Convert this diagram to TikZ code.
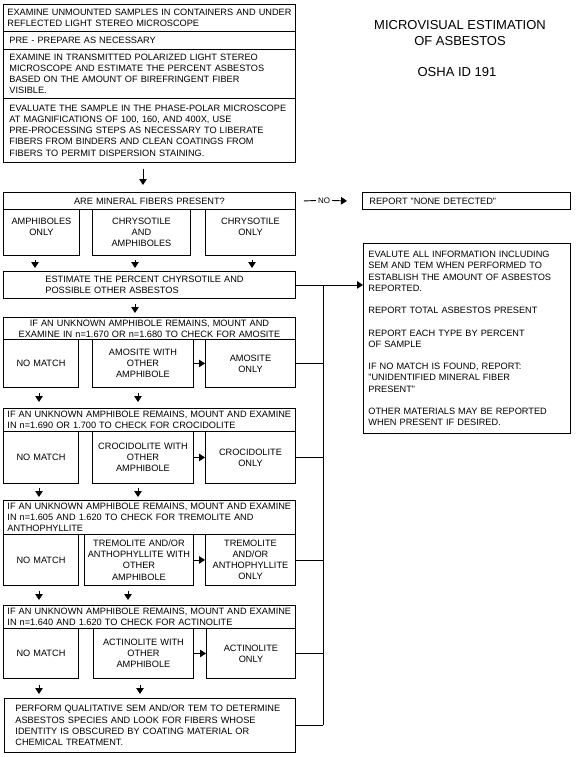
\documentclass[tikz,border=0pt]{standalone}
\usepackage{fontspec}
\setmainfont{Liberation Sans}
\usetikzlibrary{arrows.meta,calc}
\newcommand\tf{\fontsize{9.2}{11.2}\selectfont\hyphenpenalty=10000\exhyphenpenalty=10000}
\begin{document}
\begin{tikzpicture}[x=1pt,y=-1pt,
  box/.style={draw, line width=0.9pt, anchor=north west, inner ysep=0pt, font=\tf},
  lbox/.style={box, align=left},
  cbox/.style={box, align=center, inner xsep=3pt},
  arr/.style={line width=0.9pt, -{Triangle[width=7.5pt,length=6pt]}},
  ln/.style={line width=0.9pt},
  ttl/.style={font=\fontsize{13}{16}\selectfont, align=center}]
\useasboundingbox (0,0) rectangle (576,757);
% title
\node[ttl] (title) at (460,33) {MICROVISUAL ESTIMATION\\OF ASBESTOS};
\node[ttl] (osha) at (457,72) {OSHA ID 191};
% top group
\node[lbox, minimum width=292, minimum height=27, inner xsep=4pt, text width=284pt] (r1) at (3,4)
  {\mbox{EXAMINE UNMOUNTED SAMPLES IN CONTAINERS AND UNDER}\\REFLECTED LIGHT STEREO MICROSCOPE};
\node[lbox, minimum width=292, minimum height=18, inner xsep=6pt, text width=280pt] (r2) at (3,31)
  {PRE - PREPARE AS NECESSARY};
\node[lbox, minimum width=292, minimum height=49, inner xsep=6pt, text width=280pt] (r3) at (3,49)
  {EXAMINE IN TRANSMITTED POLARIZED LIGHT STEREO\\MICROSCOPE AND ESTIMATE THE PERCENT ASBESTOS\\BASED ON THE AMOUNT OF BIREFRINGENT FIBER\\VISIBLE.};
\node[lbox, minimum width=292, minimum height=64, inner xsep=6pt, text width=280pt] (r4) at (3,98)
  {EVALUATE THE SAMPLE IN THE PHASE-POLAR MICROSCOPE\\AT MAGNIFICATIONS OF 100, 160, AND 400X, USE\\PRE-PROCESSING STEPS AS NECESSARY TO LIBERATE\\FIBERS FROM BINDERS AND CLEAN COATINGS FROM\\FIBERS TO PERMIT DISPERSION STAINING.};
% mineral question
\node[cbox, minimum width=292, minimum height=17, text width=286pt] (mineral) at (3,192)
  {ARE MINERAL FIBERS PRESENT?};
\node[cbox, minimum width=76, minimum height=46, text width=70pt] (c1) at (3,209)
  {AMPHIBOLES\\ONLY\\\mbox{}};
\node[cbox, minimum width=98, minimum height=46, text width=92pt] (c2) at (92,209)
  {CHRYSOTILE\\AND\\AMPHIBOLES};
\node[cbox, minimum width=90, minimum height=46, text width=84pt] (c3) at (205,209)
  {CHRYSOTILE\\ONLY\\\mbox{}};
\node[lbox, minimum width=208, minimum height=17, inner xsep=7pt, text width=194pt] (report) at (362,192)
  {REPORT "NONE DETECTED"};
\node[font=\fontsize{8}{9}\selectfont, inner sep=2pt] (no) at (324,200.5) {NO};
% estimate
\node[lbox, minimum width=292, minimum height=27, inner xsep=42pt, text width=208pt] (estimate) at (3,271)
  {ESTIMATE THE PERCENT CHYRSOTILE AND\\POSSIBLE OTHER ASBESTOS};
% evaluate
\node[lbox, minimum width=207, minimum height=190, inner xsep=5pt, text width=197pt] (evaluate) at (363,243)
  {EVALUTE ALL INFORMATION INCLUDING\\SEM AND TEM WHEN PERFORMED TO\\ESTABLISH THE AMOUNT OF ASBESTOS\\REPORTED.\\[11.2pt]REPORT TOTAL ASBESTOS PRESENT\\[11.2pt]REPORT EACH TYPE BY PERCENT\\OF SAMPLE\\[11.2pt]IF NO MATCH IS FOUND, REPORT:\\"UNIDENTIFIED MINERAL FIBER\\PRESENT"\\[11.2pt]OTHER MATERIALS MAY BE REPORTED\\WHEN PRESENT IF DESIRED.};
% amosite
\node[cbox, minimum width=292, minimum height=22, text width=286pt] (amh) at (3,317)
  {IF AN UNKNOWN AMPHIBOLE REMAINS, MOUNT AND\\EXAMINE IN n=1.670 OR n=1.680 TO CHECK FOR AMOSITE};
\node[cbox, minimum width=75, minimum height=48, text width=69pt] (amnm) at (3,339) {NO MATCH};
\node[cbox, minimum width=101, minimum height=48, text width=95pt] (amwith) at (92,339) {AMOSITE WITH\\OTHER\\AMPHIBOLE};
\node[cbox, minimum width=90, minimum height=48, text width=84pt] (amonly) at (205,339) {AMOSITE\\ONLY};
% crocidolite
\node[lbox, minimum width=292, minimum height=23, inner xsep=4pt, text width=284pt] (crh) at (3,408)
  {\mbox{IF AN UNKNOWN AMPHIBOLE REMAINS, MOUNT AND EXAMINE}\\IN n=1.690 OR 1.700 TO CHECK FOR CROCIDOLITE};
\node[cbox, minimum width=75, minimum height=52, text width=69pt] (crnm) at (3,431) {NO MATCH};
\node[cbox, minimum width=101, minimum height=52, text width=95pt] (crwith) at (92,431) {CROCIDOLITE WITH\\OTHER\\AMPHIBOLE};
\node[cbox, minimum width=90, minimum height=52, text width=84pt] (cronly) at (205,431) {CROCIDOLITE\\ONLY};
% tremolite
\node[lbox, minimum width=292, minimum height=34, inner xsep=4pt, text width=284pt] (trh) at (3,500)
  {\mbox{IF AN UNKNOWN AMPHIBOLE REMAINS, MOUNT AND EXAMINE}\\IN n=1.605 AND 1.620 TO CHECK FOR TREMOLITE AND\\ANTHOPHYLLITE};
\node[cbox, minimum width=75, minimum height=51, text width=69pt] (trnm) at (3,534) {NO MATCH};
\node[cbox, minimum width=109, minimum height=51, inner xsep=2pt, text width=105pt] (trwith) at (84,534) {TREMOLITE AND/OR\\ANTHOPHYLLITE WITH\\OTHER\\AMPHIBOLE};
\node[cbox, minimum width=90, minimum height=51, text width=84pt] (tronly) at (205,534) {TREMOLITE\\AND/OR\\ANTHOPHYLLITE\\ONLY};
% actinolite
\node[lbox, minimum width=292, minimum height=23, inner xsep=4pt, text width=284pt] (ach) at (3,605)
  {\mbox{IF AN UNKNOWN AMPHIBOLE REMAINS, MOUNT AND EXAMINE}\\IN n=1.640 AND 1.620 TO CHECK FOR ACTINOLITE};
\node[cbox, minimum width=75, minimum height=50, text width=69pt] (acnm) at (3,628) {NO MATCH};
\node[cbox, minimum width=100, minimum height=50, text width=94pt] (acwith) at (93,628) {ACTINOLITE WITH\\OTHER\\AMPHIBOLE};
\node[cbox, minimum width=89, minimum height=50, text width=83pt] (aconly) at (206,628) {ACTINOLITE\\ONLY};
% perform
\node[lbox, minimum width=291, minimum height=54, inner xsep=11pt, text width=269pt] (perform) at (4,698)
  {PERFORM QUALITATIVE SEM AND/OR TEM TO DETERMINE\\ASBESTOS SPECIES AND LOOK FOR FIBERS WHOSE\\IDENTITY IS OBSCURED BY COATING MATERIAL OR\\CHEMICAL TREATMENT.};
% bus x
\coordinate (bx) at (323,0);
% connectors
\draw[arr] ($(r4.south west)+(140,6)$) -- ($(mineral.north west)+(140,-7)$);
\draw[ln] ($(mineral.east)+(8,0)$) -- (no.west);
\draw[arr] (no.east) -- ($(report.west)+(-15,0)$);
\draw[arr] ($(c1.south west)+(32,4)$) -- ($(estimate.north west)+(32,-3)$);
\draw[arr] ($(c2.south west)+(43,4)$) -- ($(estimate.north west)+(132,-3)$);
\draw[arr] ($(c3.south west)+(47,4)$) -- ($(estimate.north west)+(249,-3)$);
\draw[arr] ($(estimate.south west)+(132,5)$) -- ($(amh.north west)+(132,-4)$);
\draw[arr] (estimate.east) -- (estimate.east -| evaluate.west);
\draw[arr] (amwith.east) -- (amonly.west);
\draw[arr] (crwith.east) -- (cronly.west);
\draw[arr] (trwith.east) -- (tronly.west);
\draw[arr] (acwith.east) -- (aconly.west);
\draw[arr] ($(amnm.south west)+(36,5)$) -- ($(crh.north west)+(36,-6)$);
\draw[arr] ($(amwith.south west)+(46,5)$) -- ($(crh.north west)+(135,-6)$);
\draw[arr] ($(crnm.south west)+(36,4)$) -- ($(trh.north west)+(36,-3)$);
\draw[arr] ($(crwith.south west)+(46,4)$) -- ($(trh.north west)+(135,-3)$);
\draw[arr] ($(trnm.south west)+(36,5)$) -- ($(ach.north west)+(36,-5)$);
\draw[arr] ($(trwith.south west)+(44,5)$) -- ($(ach.north west)+(125,-5)$);
\draw[arr] ($(acnm.south west)+(36,6)$) -- ($(perform.north west)+(35,-4)$);
\draw[arr] ($(acwith.south west)+(47,6)$) -- ($(perform.north west)+(136,-4)$);
% bus
\draw[ln] (amonly.east) -- (amonly.east -| bx);
\draw[ln] (cronly.east) -- (cronly.east -| bx);
\draw[ln] (tronly.east) -- (tronly.east -| bx);
\draw[ln] (aconly.east) -- (aconly.east -| bx);
\draw[ln] (perform.east) -- (perform.east -| bx);
\draw[ln] (estimate.east -| bx) -- (perform.east -| bx);
\end{tikzpicture}
\end{document}
